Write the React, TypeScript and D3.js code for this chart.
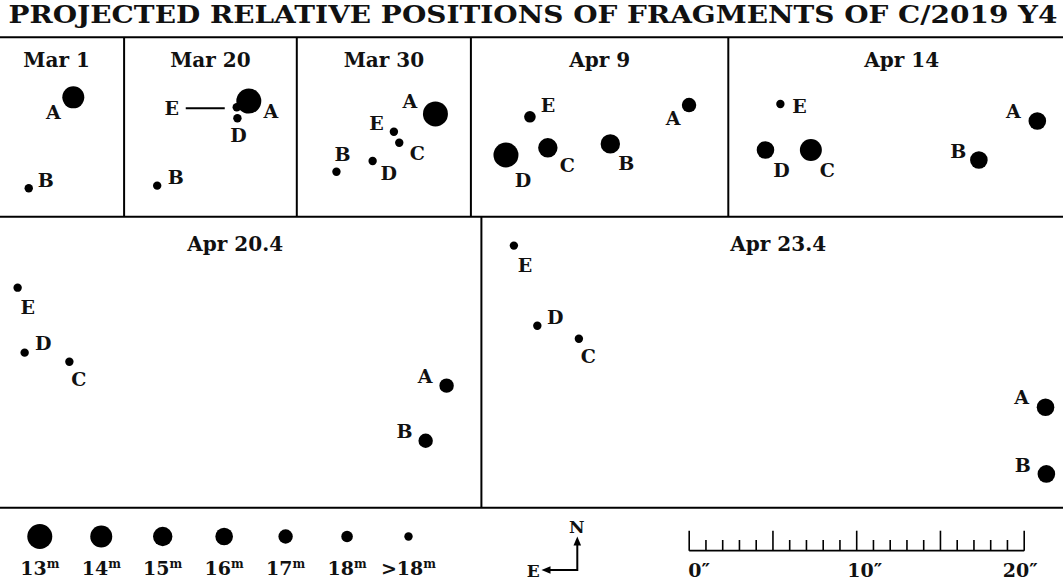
import React from "react";
import * as d3 from "d3";

// ---- data: fragment offsets from each panel centre, arcsec (east +, north +) ----
const TITLE = "PROJECTED RELATIVE POSITIONS OF FRAGMENTS OF C/2019 Y4";
const dates = ["Mar 1", "Mar 20", "Mar 30", "Apr 9", "Apr 14", "Apr 20.4", "Apr 23.4"];
const magnitudes = ["13", "14", "15", "16", "17", "18", ">18"];
const scaleTicks = [0, 10, 20];

const mar1 = [
  { frag: "A", dE: -1.0, dN: 1.77, mag: "14" },
  { frag: "B", dE: 1.66, dN: -3.66, mag: ">18" },
];
const mar20 = [
  { frag: "E", dE: -1.57, dN: 1.18, mag: ">18" },
  { frag: "A", dE: -2.29, dN: 1.55, mag: "13" },
  { frag: "D", dE: -1.61, dN: 0.52, mag: ">18" },
  { frag: "B", dE: 3.18, dN: -3.5, mag: ">18" },
];
const mar30 = [
  { frag: "A", dE: -3.08, dN: 0.78, mag: "13" },
  { frag: "E", dE: -0.6, dN: -0.28, mag: ">18" },
  { frag: "C", dE: -0.92, dN: -0.94, mag: ">18" },
  { frag: "D", dE: 0.67, dN: -2.03, mag: ">18" },
  { frag: "B", dE: 2.83, dN: -2.67, mag: ">18" },
];
const apr9 = [
  { frag: "E", dE: 4.16, dN: 0.61, mag: "18" },
  { frag: "A", dE: -5.34, dN: 1.31, mag: "17" },
  { frag: "D", dE: 5.59, dN: -1.67, mag: "13" },
  { frag: "C", dE: 3.09, dN: -1.24, mag: "15" },
  { frag: "B", dE: -0.64, dN: -1.01, mag: "15" },
];
const apr14 = [
  { frag: "E", dE: 7.24, dN: 1.37, mag: ">18" },
  { frag: "A", dE: -8.1, dN: 0.36, mag: "16" },
  { frag: "D", dE: 8.13, dN: -1.37, mag: "16" },
  { frag: "C", dE: 5.42, dN: -1.37, mag: "14" },
  { frag: "B", dE: -4.61, dN: -1.97, mag: "16" },
];
const apr20 = [
  { frag: "E", dE: 12.99, dN: 4.45, mag: ">18" },
  { frag: "D", dE: 12.57, dN: 0.57, mag: ">18" },
  { frag: "C", dE: 9.9, dN: 0.03, mag: ">18" },
  { frag: "A", dE: -12.62, dN: -1.4, mag: "17" },
  { frag: "B", dE: -11.37, dN: -4.69, mag: "17" },
];
const apr23 = [
  { frag: "E", dE: 15.78, dN: 6.96, mag: ">18" },
  { frag: "D", dE: 14.38, dN: 2.18, mag: ">18" },
  { frag: "C", dE: 11.9, dN: 1.4, mag: ">18" },
  { frag: "A", dE: -15.96, dN: -2.69, mag: "16" },
  { frag: "B", dE: -16.01, dN: -6.67, mag: "16" },
];
const fragmentsByDate = [mar1, mar20, mar30, apr9, apr14, apr20, apr23];

// ---- layout / styling ----
const W = 1063;
const H = 584;
const FONT = "'DejaVu Serif', serif";
const radii = [12.5, 11, 9.7, 8.8, 7.2, 5.8, 4.2];
const rows = [
  { y0: 37.3, y1: 216.7, titleDy: 30 },
  { y0: 216.7, y1: 507.7, titleDy: 34 },
];
const panelBox = [
  { row: 0, x0: -11, x1: 124.1 },
  { row: 0, x0: 124.1, x1: 296.8 },
  { row: 0, x0: 296.8, x1: 470.9 },
  { row: 0, x0: 470.9, x1: 728.3 },
  { row: 0, x0: 728.3, x1: 1075 },
  { row: 1, x0: -11, x1: 481.4 },
  { row: 1, x0: 481.4, x1: 1075 },
];
// label nudges in px (centre of letter relative to dot centre)
const labelNudge: Record<string, Record<string, [number, number]>> = {
  "Mar 1": { A: [-20, 15], B: [17, -8] },
  "Mar 20": { A: [22, 10], D: [1, 17], B: [18.5, -9], E: [-65, 1] },
  "Mar 30": { A: [-25.5, -12.5], E: [-17.5, -8.5], C: [18, 10.5], D: [16, 12.5], B: [6, -17.5] },
  "Apr 9": { E: [18, -12], A: [-16, 13], D: [17, 25], C: [19.5, 17.5], B: [16, 19.5] },
  "Apr 14": { E: [19, 2], A: [-24, -9.5], D: [16, 20.5], C: [16.5, 20.5], B: [-20.5, -8.5] },
  "Apr 20.4": { E: [10, 19], D: [18.5, -9.5], C: [9.5, 17.5], A: [-21.5, -9.5], B: [-21, -10] },
  "Apr 23.4": { E: [11, 19.5], D: [18, -8.5], C: [9.5, 17.5], A: [-24, -10.5], B: [-23.5, -9] },
};
const leaders = [{ date: "Mar 20", frag: "E", from: -12, to: -51, dy: 1 }];

const LABEL_SIZE = 19;
const capHalf = (size: number) => size * 0.729 * 0.5;

export default function App() {
  // scale bar (20 arcsec) defines the plate scale used in every panel
  const bar = d3.scaleLinear().domain([0, 20]).range([689.2, 1024.2]);
  const pxPerArcsec = bar(1) - bar(0);
  const radius = d3.scaleOrdinal<string, number>().domain(magnitudes).range(radii);
  const legendX = d3.scalePoint<string>().domain(magnitudes).range([39.8, 408.5]);
  const legendY = 536.5;

  const panels = dates.map((date, i) => {
    const box = panelBox[i];
    const row = rows[box.row];
    const cx = (box.x0 + box.x1) / 2;
    const cy = (row.y0 + row.y1) / 2;
    const x = d3.scaleLinear().domain([0, 1]).range([cx, cx - pxPerArcsec]);
    const y = d3.scaleLinear().domain([0, 1]).range([cy, cy - pxPerArcsec]);
    return { date, box, row, cx, x, y, frags: fragmentsByDate[i] };
  });

  const stroke = "#000";

  return (
    <svg
      width={W}
      height={H}
      viewBox={`0 0 ${W} ${H}`}
      style={{ position: "absolute", left: 0, top: 0, background: "#fff" }}
      fontFamily={FONT}
      fontWeight="bold"
    >
      <rect width={W} height={H} fill="#fff" />
      <text x={8.5} y={23} fontSize={24} textLength={1049} lengthAdjust="spacingAndGlyphs" fill="#111">
        {TITLE}
      </text>

      {/* frame */}
      {rows.map((r, i) => (
        <line key={"h" + i} x1={-11} x2={1075} y1={r.y0} y2={r.y0} stroke={stroke} strokeWidth={2} />
      ))}
      <line x1={-11} x2={1075} y1={rows[1].y1} y2={rows[1].y1} stroke={stroke} strokeWidth={2} />
      {panels
        .filter((p) => p.box.x0 > 0)
        .map((p) => (
          <line
            key={"v" + p.date}
            x1={p.box.x0}
            x2={p.box.x0}
            y1={p.row.y0}
            y2={p.row.y1}
            stroke={stroke}
            strokeWidth={2}
          />
        ))}

      {panels.map((p) => (
        <g key={p.date}>
          <text x={p.cx} y={p.row.y0 + p.row.titleDy} textAnchor="middle" fontSize={20} fill="#111">
            {p.date}
          </text>
          {leaders
            .filter((l) => l.date === p.date)
            .map((l) => {
              const f = p.frags.find((d) => d.frag === l.frag)!;
              const fx = p.x(f.dE);
              const fy = p.y(f.dN) + l.dy;
              return (
                <line key={l.frag} x1={fx + l.from} x2={fx + l.to} y1={fy} y2={fy} stroke={stroke} strokeWidth={1.8} />
              );
            })}
          {p.frags.map((f) => (
            <circle key={f.frag} cx={p.x(f.dE)} cy={p.y(f.dN)} r={radius(f.mag)} fill="#000" />
          ))}
          {p.frags.map((f) => {
            const [dx, dy] = labelNudge[p.date][f.frag];
            return (
              <text
                key={"l" + f.frag}
                x={p.x(f.dE) + dx}
                y={p.y(f.dN) + dy + capHalf(LABEL_SIZE)}
                textAnchor="middle"
                fontSize={LABEL_SIZE}
                fill="#111"
              >
                {f.frag}
              </text>
            );
          })}
        </g>
      ))}

      {/* magnitude legend */}
      {magnitudes.map((m) => (
        <g key={"m" + m}>
          <circle cx={legendX(m)} cy={legendY} r={radius(m)} fill="#000" />
          <text x={legendX(m)} y={575} textAnchor="middle" fontSize={19} fill="#111">
            {m}
            <tspan fontSize={12} dy={-7}>
              m
            </tspan>
          </text>
        </g>
      ))}

      {/* orientation */}
      <g stroke={stroke} strokeWidth={2} fill="none">
        <polyline points="577.3,544 577.3,570 549,570" />
      </g>
      <path d="M577.3,536.5 L573.5,545.5 L581.1,545.5 Z" fill="#000" />
      <path d="M541.5,570 L550.5,566.2 L550.5,573.8 Z" fill="#000" />
      <text x={576.7} y={533} textAnchor="middle" fontSize={17} fill="#111">
        N
      </text>
      <text x={533.3} y={577} textAnchor="middle" fontSize={17} fill="#111">
        E
      </text>

      {/* arcsec scale bar */}
      <line x1={bar(0)} x2={bar(20)} y1={550.7} y2={550.7} stroke={stroke} strokeWidth={1.7} />
      {d3.range(0, 21).map((v) => (
        <line
          key={"t" + v}
          x1={bar(v)}
          x2={bar(v)}
          y1={550.7}
          y2={v % 5 === 0 ? 530.7 : 540}
          stroke={stroke}
          strokeWidth={1.6}
        />
      ))}
      {scaleTicks.map((v, i) => (
        <text key={"s" + v} x={bar(v) + [10, 8, -4][i]} y={577} textAnchor="middle" fontSize={19} fill="#111">
          {`${v}″`}
        </text>
      ))}
    </svg>
  );
}
